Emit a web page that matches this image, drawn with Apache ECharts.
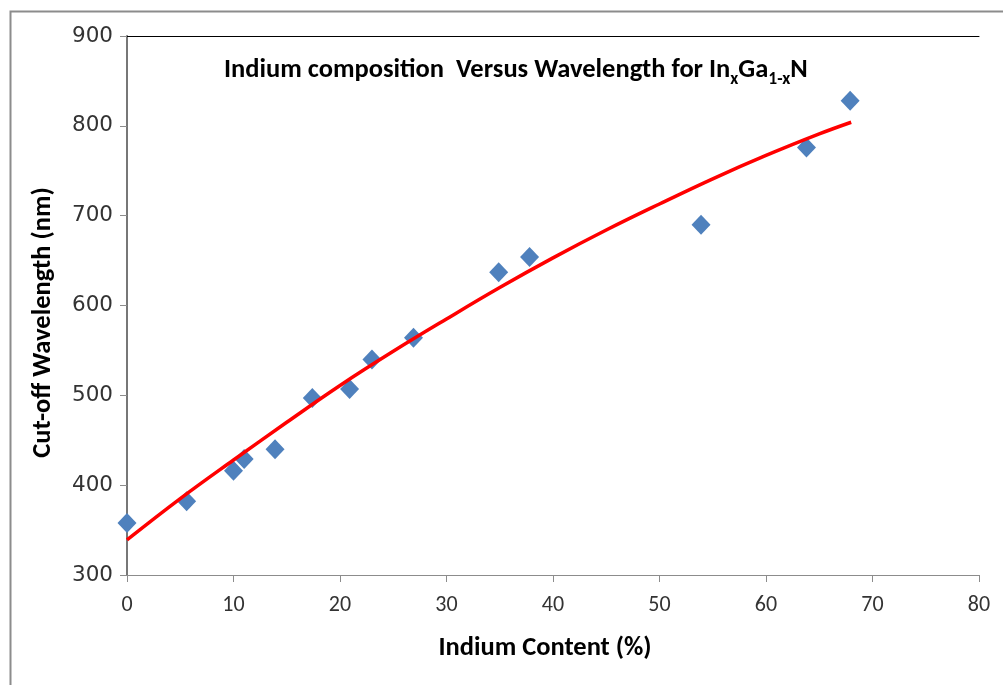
<!DOCTYPE html>
<html>
<head>
<meta charset="utf-8">
<script src="https://cdn.jsdelivr.net/npm/echarts@6/dist/echarts.min.js"></script>
<style>
html,body{margin:0;padding:0;background:#fff;}
#c{width:1003px;height:685px;}
</style>
</head>
<body>
<div id="c"></div>
<script>
// Measured points: indium content (%) and cut-off wavelength (nm)
const indiumContent = [0, 5.6, 10, 11, 13.9, 17.4, 20.9, 23, 26.9, 34.9, 37.8, 53.9, 63.8, 67.9];
const wavelength   = [358, 382, 416, 429, 440, 497, 507, 540, 564, 637, 654, 690, 776, 828];
// Trend line
const trendX = [0, 5, 10, 15, 20, 25, 30, 35, 40, 45, 50, 55, 60, 65, 68];
const trendY = [339, 385, 428, 470, 511, 549, 585, 620, 653, 684, 713, 741, 767, 791, 804];
const xTicks = [0, 10, 20, 30, 40, 50, 60, 70, 80];
const yTicks = [300, 400, 500, 600, 700, 800, 900];

const narrow = 'Carlito, "Liberation Sans Narrow", "Open Sans", sans-serif';
const chart = echarts.init(document.getElementById('c'), null, {renderer: 'canvas'});
chart.setOption({
  animation: false,
  backgroundColor: '#fff',
  title: {
    text: '{b|Indium composition  Versus Wavelength for In}{s|x}{b|Ga}{s|1-x}{b|N}',
    left: 219,
    top: 52,
    textStyle: {
      rich: {
        b: {fontFamily: narrow, fontWeight: 'bold', fontSize: 26.5, color: '#000', lineHeight: 32, verticalAlign: 'top'},
        s: {fontFamily: narrow, fontWeight: 'bold', fontSize: 17.5, color: '#000', lineHeight: 32, verticalAlign: 'top', padding: [14, 0, 0, 0]}
      }
    }
  },
  graphic: [{
    type: 'rect', left: 8, top: 9, z: -1,
    shape: {width: 1010, height: 700},
    style: {fill: 'none', stroke: '#8c8c8c', lineWidth: 2}
  }],
  grid: {left: 127, top: 36, width: 852, height: 539, show: false},
  xAxis: [{
    type: 'value', min: 0, max: 80, interval: 10,
    name: 'Indium Content (%)', nameLocation: 'middle', nameGap: 60,
    nameTextStyle: {fontFamily: narrow, fontWeight: 'bold', fontSize: 26.5, color: '#000', padding: [0, 16, 0, 0]},
    axisLine: {show: true, lineStyle: {color: '#8c8c8c', width: 1}},
    axisTick: {show: true, length: 7, lineStyle: {color: '#8c8c8c'}},
    axisLabel: {fontFamily: narrow, fontSize: 22, color: '#333', margin: 19,
      formatter: v => xTicks.includes(v) ? String(v) : ''},
    splitLine: {show: false}
  }, {
    type: 'value', min: 0, max: 80, position: 'top',
    axisLine: {show: true, lineStyle: {color: '#000', width: 1}},
    axisTick: {show: false}, axisLabel: {show: false}, splitLine: {show: false}
  }],
  yAxis: [{
    type: 'value', min: 300, max: 900, interval: 100,
    name: 'Cut-off Wavelength (nm)', nameLocation: 'middle', nameGap: 70,
    nameTextStyle: {fontFamily: narrow, fontWeight: 'bold', fontSize: 26.5, color: '#000', padding: [0, 34, 0, 0]},
    axisLine: {show: true, lineStyle: {color: '#8c8c8c', width: 1}},
    axisTick: {show: true, length: 7, lineStyle: {color: '#8c8c8c'}},
    axisLabel: {fontFamily: '"DejaVu Sans", Verdana, sans-serif', fontSize: 21.5, color: '#333', margin: 14,
      formatter: v => yTicks.includes(v) ? String(v) : ''},
    splitLine: {show: false}
  }, {
    type: 'value', min: 300, max: 900, position: 'right',
    axisLine: {show: true, lineStyle: {color: '#777', width: 2}},
    axisTick: {show: false}, axisLabel: {show: false}, splitLine: {show: false}
  }],
  series: [{
    type: 'scatter',
    data: indiumContent.map((x, i) => [x, wavelength[i]]),
    symbol: 'diamond', symbolSize: [19, 20],
    itemStyle: {color: '#4F81BD', opacity: 1},
    z: 2
  }, {
    type: 'line',
    data: trendX.map((x, i) => [x, trendY[i]]),
    smooth: 0.4, showSymbol: false,
    lineStyle: {color: '#FF0000', width: 3.5},
    z: 3
  }]
});
</script>
</body>
</html>
